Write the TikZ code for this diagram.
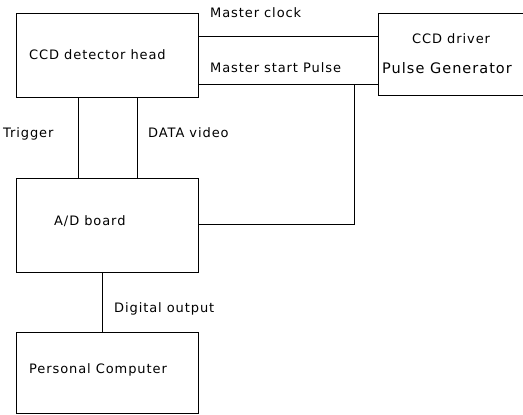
\documentclass[tikz,border=0pt]{standalone}
\usepackage{fontspec}
\setmainfont{DejaVu Sans}[LetterSpace=7]
\begin{document}
\begin{tikzpicture}[x=1pt,y=-1pt,
  blk/.style={draw,line width=0.7pt,inner sep=0pt},
  wire/.style={line width=0.7pt},
  lbl/.style={anchor=base west,inner sep=0pt,font=\fontsize{13}{15}\selectfont},
  biglbl/.style={lbl,font=\fontsize{14.5}{16}\selectfont}]
\useasboundingbox (0,0) rectangle (523,415);
\clip (0,0) rectangle (523,415);
% blocks
\node[blk,minimum width=182pt,minimum height=84pt,anchor=north west] (head) at (16,13) {};
\node[blk,minimum width=150pt,minimum height=82pt,anchor=north west] (drv) at (378,13) {};
\node[blk,minimum width=182pt,minimum height=94pt,anchor=north west] (adc) at (16,178) {};
\node[blk,minimum width=182pt,minimum height=81pt,anchor=north west] (pc) at (16,332) {};
% block texts
\node[lbl] (tHead) at (29,59.5) {CCD detector head};
\node[lbl] (tDrv1) at (412,43) {CCD driver};
\node[biglbl] (tDrv2) at (382,74) {Pulse Generator};
\node[lbl] (tAdc) at (54,225) {A/D board};
\node[lbl] (tPc) at (29,373) {Personal Computer};
% connector labels
\node[lbl] (tClk) at (210,17) {Master clock};
\node[lbl] (tStart) at (210,72) {Master start Pulse};
\node[lbl] (tTrig) at (3,137) {Trigger};
\node[lbl] (tData) at (148,137) {DATA video};
\node[lbl] (tDig) at (114,312) {Digital output};
% connectors
\coordinate (clkA) at (head.east |- 0,36);
\coordinate (stA) at (head.east |- 0,84);
\coordinate (tap) at (354,84);
\coordinate (tapB) at (354,224);
\draw[wire] (clkA) -- (clkA -| drv.west);
\draw[wire] (stA) -- (stA -| drv.west);
\draw[wire] (tap) -- (tapB) -- (tapB -| adc.east);
\draw[wire] (head.south -| 78,0) -- (adc.north -| 78,0);
\draw[wire] (head.south -| 137,0) -- (adc.north -| 137,0);
\draw[wire] (adc.south -| 102,0) -- (pc.north -| 102,0);
\end{tikzpicture}
\end{document}
